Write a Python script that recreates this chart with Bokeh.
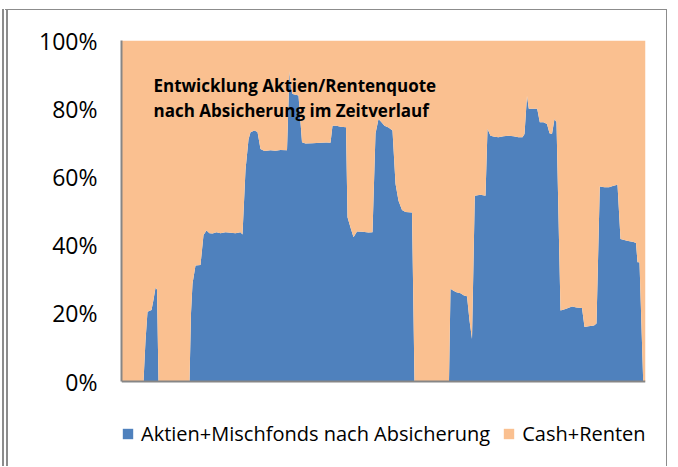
from bokeh.plotting import figure
from bokeh.models import ColumnDataSource, FixedTicker, Legend, LegendItem, Label, Span
from bokeh.embed import file_html
from bokeh.resources import INLINE

# ---- data (time index, equity quota in %) ----
t = [0, 22, 24, 26, 30, 32, 34, 35.5, 37, 68, 69.5, 71, 74, 79, 82, 85, 88, 91, 95, 99,
     104, 109, 114, 119, 121, 124, 127, 129, 133, 136, 139, 143, 149, 154, 159, 165.5,
     168, 169.5, 171, 177, 180.5, 184, 191, 199, 205, 209, 211, 215, 219, 224.5, 226,
     229, 232, 235.5, 241, 247, 251, 254, 257, 260, 263, 267, 271, 274, 277, 280.5, 284,
     290.5, 293, 327.5, 329, 332, 335, 339, 342.5, 345.5, 348, 350.5, 353.3, 359, 364,
     366, 369, 373, 377, 382, 387, 392, 397, 401, 403, 405.5, 407.3, 412, 415.7, 418.3,
     422, 425.5, 428, 430.5, 433, 435, 439, 444, 450.5, 455, 460.5, 463, 467, 472.5, 475,
     478.3, 483, 487.5, 492, 496, 499, 505.5, 512, 514.5, 516, 518, 521.7, 524]
aktien = [0, 0, 12, 20.5, 21, 24, 27.5, 27, 0, 0, 20, 28.7, 34, 34.2, 43, 44.3, 43.5, 43.4,
          43.8, 43.5, 43.8, 43.6, 43.5, 43.8, 43.1, 62, 71, 73.1, 73.6, 73.2, 68.2, 67.6,
          67.8, 67.7, 67.9, 67.8, 91, 86, 84.3, 83.9, 70.2, 69.8, 69.9, 70.0, 70.1, 70.0,
          75, 75, 74.7, 74.6, 48.2, 45.2, 42.3, 44, 43.9, 43.7, 43.8, 72.7, 77, 76, 75,
          74.5, 73.6, 58, 53, 50.3, 49.7, 49.6, 0, 0, 27.2, 26.6, 26.2, 25.9, 25.2, 25,
          17.9, 12.5, 54.5, 54.8, 54.5, 74.1, 72.1, 71.8, 71.6, 71.9, 72.1, 71.9, 71.6,
          71.6, 72.6, 83.7, 80, 80, 80, 76, 76, 75.5, 72.8, 72.6, 77, 76, 20.8, 21.3, 22,
          21.7, 21.6, 16, 16.2, 16.4, 17, 57.2, 57, 57, 57.4, 57.7, 41.8, 41.3, 40.9, 40.6,
          35, 35, 0, 0]
cash = [100 - a for a in aktien]

series_names = ["Aktien+Mischfonds nach Absicherung", "Cash+Renten"]
series_colors = ["#4F81BD", "#FAC090"]
y_ticks = [0, 20, 40, 60, 80, 100]
y_tick_labels = ["0%", "20%", "40%", "60%", "80%", "100%"]
title_lines = ["Entwicklung Aktien/Rentenquote", "nach Absicherung im Zeitverlauf"]

source = ColumnDataSource(dict(t=t, aktien=aktien, cash=cash))

# frame reaches down to the canvas bottom so the legend can sit inside it
p = figure(width=665, height=457, output_backend="svg", toolbar_location=None,
           x_range=(0, 524), y_range=(-25.2, 100),
           min_border_left=113, min_border_right=28, min_border_top=30, min_border_bottom=0,
           styles={"margin-left": "2px", "margin-top": "9px",
                   "border-left": "6px double #8c8c8c",
                   "border-top": "1px solid #8c8c8c",
                   "border-right": "1px solid #8c8c8c"})
p.background_fill_color = "white"
p.border_fill_color = "white"
p.outline_line_color = None
p.grid.visible = False
p.xaxis.visible = False

renderers = p.varea_stack(["aktien", "cash"], x="t", source=source, color=series_colors)

# y axis
font = "Open Sans"
p.yaxis.ticker = FixedTicker(ticks=y_ticks)
p.yaxis.bounds = (0, 100)
p.yaxis.major_label_overrides = {v: s for v, s in zip(y_ticks, y_tick_labels)}
p.yaxis.major_label_text_font = font
p.yaxis.major_label_text_font_size = "23px"
p.yaxis.major_label_text_color = "black"
p.yaxis.major_tick_line_color = None
p.yaxis.minor_tick_line_color = None
p.yaxis.major_tick_out = 0
p.yaxis.minor_tick_out = 0
p.yaxis.major_label_standoff = 24
p.yaxis.axis_line_color = "#868686"
p.yaxis.axis_line_width = 2

# baseline (category axis line)
p.add_layout(Span(location=0, dimension="width", line_color="#868686", line_width=2))

# in-plot title
for i, line in enumerate(title_lines):
    p.add_layout(Label(x=32, y=382 - 25 * i, x_units="screen", y_units="screen", text=line,
                       text_font=font, text_font_style="bold", text_font_size="17px",
                       text_color="black", text_baseline="alphabetic"))

# legend
legend = Legend(items=[LegendItem(label=n, renderers=[r]) for n, r in zip(series_names, renderers)],
                orientation="horizontal", location=(0, 20),
                glyph_width=13, glyph_height=13, label_standoff=7, spacing=12,
                padding=0, margin=0, border_line_color=None, background_fill_alpha=0,
                label_text_font=font, label_text_font_size="20px", label_text_color="black")
p.add_layout(legend, "center")

open("out.html", "w").write(file_html(p, INLINE))
